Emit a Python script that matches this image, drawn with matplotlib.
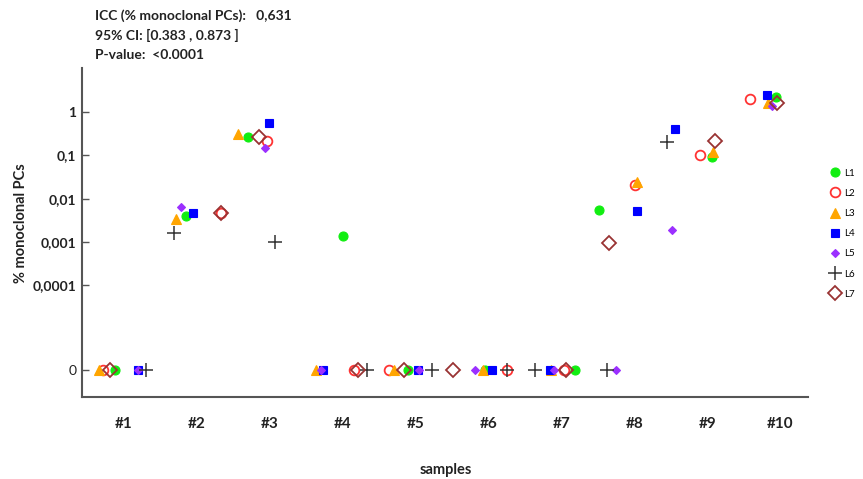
import numpy as np
import matplotlib
matplotlib.use("Agg")
import matplotlib.pyplot as plt
from matplotlib.ticker import FixedLocator, FixedFormatter, NullLocator

plt.rcParams['font.family'] = ['Lato', 'DejaVu Sans']

# ---------------- data ----------------
samples = ["#1", "#2", "#3", "#4", "#5", "#6", "#7", "#8", "#9", "#10"]
labs = ["L1", "L2", "L3", "L4", "L5", "L6", "L7"]

# % monoclonal PCs per lab (0 = not detected, nan = not shown)
L1 = [0, 0.004, 0.26, 0.0014, 0, 0, 0, 0.0055, 0.09, 2.2]
L2 = [0, 0.0047, 0.22, 0, 0, 0, 0, 0.021, 0.10, 2.0]
L3 = [0, 0.0034, 0.31, 0, 0, 0, 0, 0.024, 0.12, 1.6]
L4 = [0, 0.0047, 0.55, 0, 0, 0, 0, 0.0053, 0.40, 2.5]
L5 = [0, 0.0065, 0.15, 0, 0, 0, 0, 0, 0.0019, 1.4]
L6 = [0, 0.0016, 0.001, 0, 0, 0, 0, 0, 0.20, np.nan]
L7 = [0, 0.0047, 0.26, 0, 0, 0, 0, 0.00095, 0.22, 1.6]

# horizontal jitter (fraction of sample spacing)
J1 = [-0.12, -0.15, -0.30, 0.01, -0.10, -0.05, 0.19, -0.49, 0.07, -0.05]
J2 = [-0.29, 0.33, -0.04, 0.16, -0.36, 0.25, 0.04, 0.01, -0.10, -0.41]
J3 = [-0.34, -0.29, -0.44, -0.36, -0.29, -0.08, -0.14, 0.04, 0.08, -0.16]
J4 = [0.19, -0.05, -0.01, -0.27, 0.04, 0.05, -0.15, 0.04, -0.44, -0.18]
J5 = [0.19, -0.22, -0.07, -0.30, 0.05, -0.18, -0.10, -0.25, -0.48, -0.11]
J6 = [0.30, -0.32, 0.07, 0.33, 0.23, 0.25, -0.36, -0.38, -0.55, 0.0]
J7 = [-0.19, 0.33, -0.15, 0.21, -0.16, -0.49, 0.07, -0.34, 0.11, -0.04]

ytick_vals = [1, 0.1, 0.01, 0.001, 0.0001, 0]
ytick_labels = ["1", "0,1", "0,01", "0,001", "0,0001", "0"]

header = ["ICC (% monoclonal PCs):   0,631",
          "95% CI: [0.383 , 0.873 ]",
          "P-value:  <0.0001"]

# ---------------- styling ----------------
ZERO_POS = 1.1e-6   # where "0" is drawn on the log axis
styles = [
    dict(marker='o', color='#11ee11', mfc='#11ee11', mec='#11ee11', ms=6.5, mew=0.8),
    dict(marker='o', color='#ff3333', mfc='none', mec='#ff3333', ms=7, mew=1.3),
    dict(marker='^', color='#ffa500', mfc='#ffa500', mec='#ffa500', ms=7.5, mew=0.8),
    dict(marker='s', color='#0000ff', mfc='#0000ff', mec='#0000ff', ms=6.3, mew=0.8),
    dict(marker='D', color='#9b30ff', mfc='#9b30ff', mec='#9b30ff', ms=4.3, mew=0.8),
    dict(marker='+', color='#333333', mfc='#333333', mec='#333333', ms=10, mew=1.1),
    dict(marker='D', color='#993333', mfc='none', mec='#993333', ms=7.5, mew=1.3),
]

fig = plt.figure(figsize=(8.63, 4.79), dpi=100)
ax = fig.add_axes([0.095, 0.171, 0.841, 0.687])

series = [L1, L2, L3, L4, L5, L6, L7]
jitters = [J1, J2, J3, J4, J5, J6, J7]
xbase = np.arange(1, len(samples) + 1)
for lab, vals, jit, st in zip(labs, series, jitters, styles):
    v = np.array(vals, dtype=float)
    v = np.where(v == 0, ZERO_POS, v)
    x = xbase + np.array(jit)
    ax.plot(x, v, linestyle='none', label=lab, **st)

ax.set_yscale('log')
ax.set_ylim(10 ** -6.59, 10 ** 1.02)
ax.set_xlim(0.424, 10.38)

yt = [v if v > 0 else ZERO_POS for v in ytick_vals]
ax.yaxis.set_major_locator(FixedLocator(yt))
ax.yaxis.set_major_formatter(FixedFormatter(ytick_labels))
ax.yaxis.set_minor_locator(NullLocator())
ax.set_xticks(xbase)
ax.set_xticklabels(samples, fontsize=11, fontweight='bold', color='#222222')
ax.tick_params(axis='x', length=0, pad=14)
ax.tick_params(axis='y', direction='in', length=5, width=1, color='#555555',
               labelsize=10, labelcolor='#222222', pad=4)
for lbl in ax.get_yticklabels():
    if lbl.get_text() == "0":
        lbl.set_fontweight('normal')
    else:
        lbl.set_fontweight('bold')

for s in ['top', 'right']:
    ax.spines[s].set_visible(False)
for s in ['left', 'bottom']:
    ax.spines[s].set_color('#555555')
    ax.spines[s].set_linewidth(1.5)

ax.set_ylabel("% monoclonal PCs", fontsize=10.5, fontweight='bold', color='#222222')
ax.yaxis.set_label_coords(-0.075, 0.53)
fig.text(0.516, 1 - 470 / 479, "samples", fontsize=10.5, fontweight='bold',
         color='#222222', ha='center', va='center')

for i, line in enumerate(header):
    fig.text(0.110, 1 - (16 + 19.5 * i) / 479, line, fontsize=10, fontweight='bold',
             color='#222222', va='center', ha='left')

leg = fig.legend(loc='upper left', bbox_to_anchor=(0.955, 0.658), frameon=False,
                 fontsize=7, handletextpad=0.4, labelspacing=1.15, borderpad=0,
                 handlelength=1.2, numpoints=1)

fig.savefig("out.png", dpi=100)
